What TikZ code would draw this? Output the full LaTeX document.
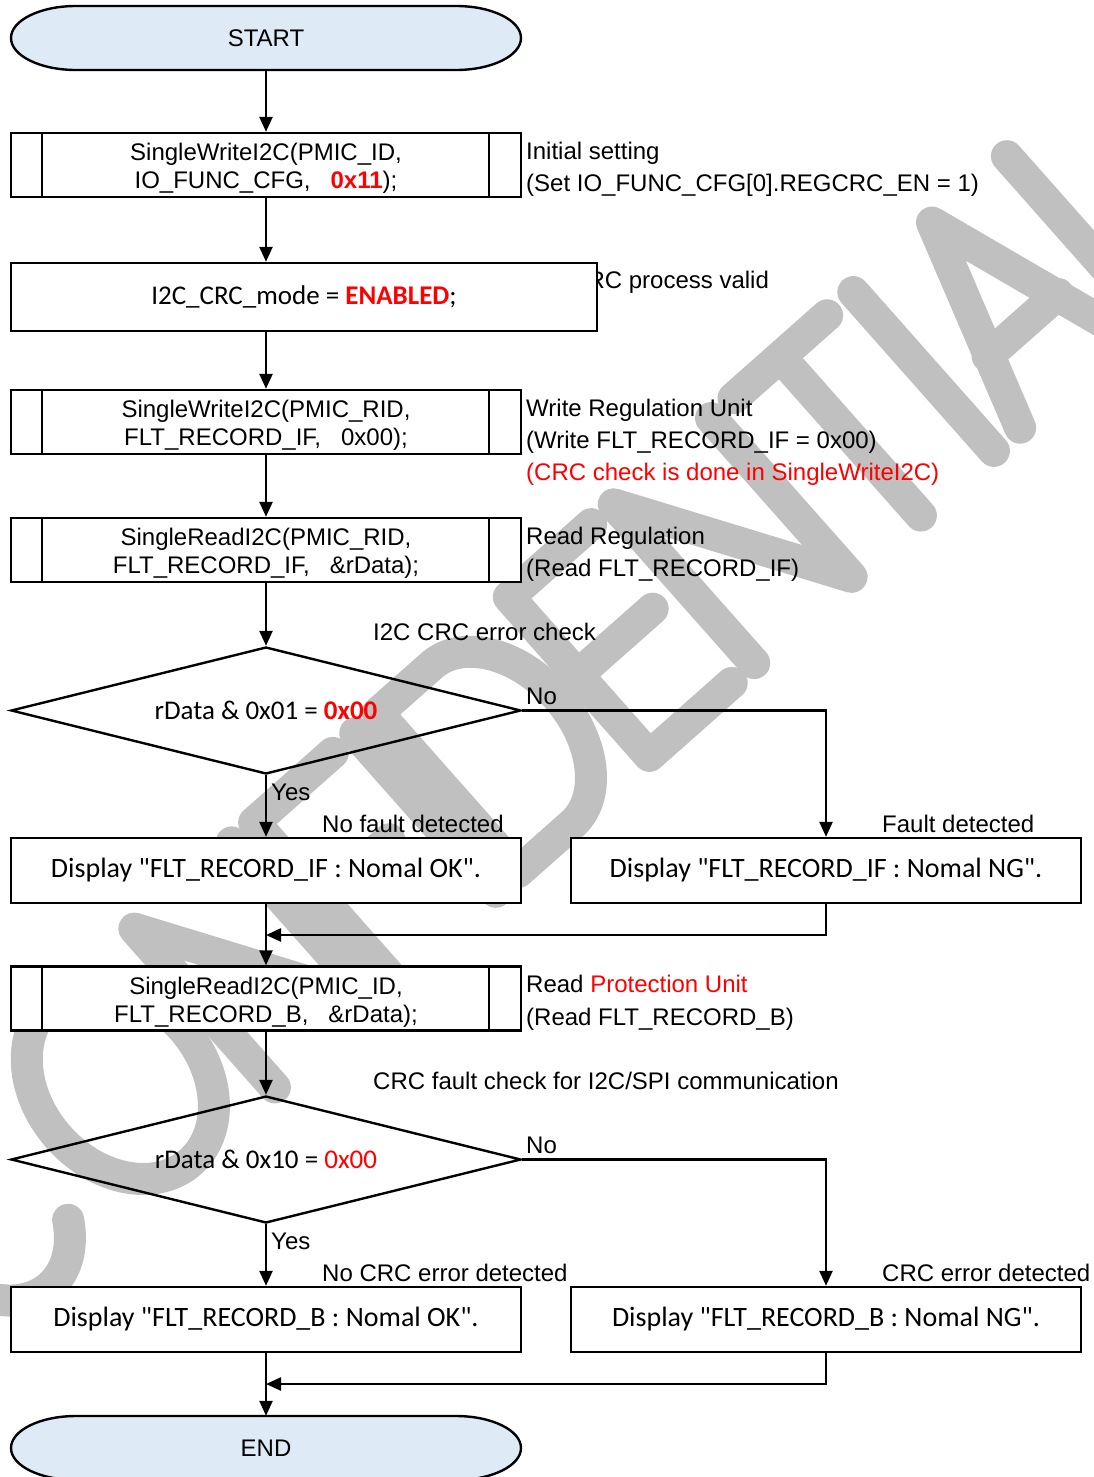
\documentclass[tikz,border=0pt]{standalone}
\usepackage{fontspec}
\setmainfont{Liberation Sans}
\newfontfamily\calfont{Carlito}
\usetikzlibrary{arrows.meta,shapes.geometric}

\definecolor{termfill}{RGB}{222,235,247}
\definecolor{wmgray}{RGB}{192,192,192}
\definecolor{hot}{RGB}{255,0,0}

% rounded terminal outline centred at (266,#1)
\newcommand\terminalpath[1]{%
  \path[draw, fill=termfill, line width=2.4pt]
    (76,#1-32) -- (456,#1-32)
    arc[start angle=-90, end angle=90, x radius=65, y radius=32]
    -- (76,#1+32)
    arc[start angle=90, end angle=270, x radius=65, y radius=32] -- cycle;}
% extra room above the first line of two-line boxes
\newcommand\lift{\rule{0pt}{24pt}}

\tikzset{
  flow/.style={line width=2.4pt},
  arr/.style={flow, -{Triangle[length=15pt,width=13pt]}},
  termtext/.style={inner sep=0pt, minimum width=510pt, minimum height=64pt,
    font=\fontsize{24}{28}\selectfont},
  box/.style={draw, fill=white, line width=2.4pt, inner sep=0pt,
    minimum width=510pt, minimum height=64pt, align=center,
    font=\fontsize{24}{28}\selectfont},
  subproc/.style={box, path picture={
    \draw[line width=2.4pt]
      ([xshift=31pt]path picture bounding box.north west) --
      ([xshift=31pt]path picture bounding box.south west)
      ([xshift=-32pt]path picture bounding box.north east) --
      ([xshift=-32pt]path picture bounding box.south east);}},
  dispbox/.style={draw, fill=white, line width=2.4pt, inner sep=0pt,
    minimum width=510pt, minimum height=65pt,
    font=\calfont\fontsize{28}{32}\selectfont},
  decision/.style={diamond, draw, line width=2.4pt, inner sep=0pt, aspect=4,
    minimum width=510pt, minimum height=127pt,
    font=\calfont\fontsize{27}{32}\selectfont},
  note/.style={anchor=base west, inner sep=0pt, font=\fontsize{24}{32}\selectfont},
  wmstroke/.style={draw=wmgray, line width=32pt, line cap=round, line join=round},
}

\begin{document}
\begin{tikzpicture}[x=1pt, y=-1pt]
\useasboundingbox (0,0) rectangle (1094,1477);

% watermark: stroke letters along a slanted baseline (letter frame: x along, y up)
\begin{scope}[shift={(-6,1336)}, x={(0.749pt,0.663pt)}, y={(-0.663pt,0.749pt)}, wmstroke]
  % C
  \draw (132.5,174.1) arc[start angle=40, end angle=320, x radius=75, y radius=106];
  % O
  \draw (262.5,106) ellipse [x radius=82.5, y radius=106];
  % N
  \draw (375,0) -- (375,212) -- (505,0) -- (505,212);
  % F
  \draw (640,212) -- (535,212) -- (535,0) (535,110) -- (625,110);
  % I
  \draw (670,0) -- (670,212);
  % D
  \draw (700,0) -- (700,212) -- (772,212)
        arc[start angle=90, end angle=-90, x radius=73, y radius=106] -- cycle;
  % E
  \draw (985,212) -- (875,212) -- (875,0) -- (985,0) (875,108) -- (975,108);
  % N
  \draw (1015,0) -- (1015,212) -- (1145,0) -- (1145,212);
  % T
  \draw (1175,212) -- (1300,212) (1237.5,212) -- (1237.5,0);
  % I
  \draw (1335,0) -- (1335,212);
  % A
  \draw (1370,0) -- (1440,212) -- (1510,0) (1393,75) -- (1487,75);
  % L
  \draw (1540,212) -- (1540,0) -- (1645,0);
\end{scope}

% note partly covered by the mode box
\node[note] (n2) at (526,288.5) {I2C CRC process valid};

% terminals
\terminalpath{38}
\node[termtext] (start) at (266,38) {START};
\terminalpath{1448}
\node[termtext] (end) at (266,1448) {END};

% process boxes
\node[subproc] (b1) at (266,165)
  {\lift SingleWriteI2C(PMIC\_ID,\\IO\_FUNC\_CFG,\ \ \ {\color{hot}\bfseries 0x11});};
\node[box, minimum width=586pt, minimum height=68pt,
      font=\calfont\fontsize{27}{32}\selectfont] (b2) at (304,297)
  {I2C\_CRC\_mode = {\color{hot}\bfseries ENABLED};};
\node[subproc] (b3) at (266,422)
  {\lift SingleWriteI2C(PMIC\_RID,\\FLT\_RECORD\_IF,\ \ \ 0x00);};
\node[subproc] (b4) at (266,550)
  {\lift SingleReadI2C(PMIC\_RID,\\FLT\_RECORD\_IF,\ \ \ \&rData);};
\node[decision] (d1) at (266,710.5) {rData \& 0x01 = {\color{hot}\bfseries 0x00}};
\node[dispbox] (ok1) at (266,870.5) {Display "FLT\_RECORD\_IF : Nomal OK".};
\node[dispbox] (ng1) at (826,870.5) {Display "FLT\_RECORD\_IF : Nomal NG".};
\node[subproc] (b5) at (266,998.5)
  {\lift SingleReadI2C(PMIC\_ID,\\FLT\_RECORD\_B,\ \ \ \&rData);};
\node[decision] (d2) at (266,1159.5) {rData \& 0x10 = {\color{hot}0x00}};
\node[dispbox] (ok2) at (266,1319.5) {Display "FLT\_RECORD\_B : Nomal OK".};
\node[dispbox] (ng2) at (826,1319.5) {Display "FLT\_RECORD\_B : Nomal NG".};

% notes
\node[note] (n1a) at (526,159.5) {Initial setting};
\node[note] (n1b) at (526,191.5) {(Set IO\_FUNC\_CFG[0].REGCRC\_EN = 1)};
\node[note] (n3a) at (526,416.5) {Write Regulation Unit};
\node[note] (n3b) at (526,448.5) {(Write FLT\_RECORD\_IF = 0x00)};
\node[note, text=hot] (n3c) at (526,480.5) {(CRC check is done in SingleWriteI2C)};
\node[note] (n4a) at (526,544.5) {Read Regulation};
\node[note] (n4b) at (526,576.5) {(Read FLT\_RECORD\_IF)};
\node[note] (c1) at (373,640.5) {I2C CRC error check};
\node[note] (no1) at (526,704.5) {No};
\node[note] (yes1) at (271,800.5) {Yes};
\node[note] (l1) at (322,832.5) {No fault detected};
\node[note] (l2) at (882,832.5) {Fault detected};
\node[note] (n5a) at (526,992.5) {Read {\color{hot}Protection Unit}};
\node[note] (n5b) at (526,1025.5) {(Read FLT\_RECORD\_B)};
\node[note] (c2) at (373,1089.5) {CRC fault check for I2C/SPI communication};
\node[note] (no2) at (526,1153.5) {No};
\node[note] (yes2) at (271,1249.5) {Yes};
\node[note] (l3) at (322,1281.5) {No CRC error detected};
\node[note] (l4) at (882,1281.5) {CRC error detected};

% connectors
\coordinate (j1) at (266,935);
\coordinate (j2) at (266,1384);
\draw[arr] (start.south) -- (b1.north);
\draw[arr] (b1.south) -- (b1.south |- b2.north);
\draw[arr] (b3.north |- b2.south) -- (b3.north);
\draw[arr] (b3.south) -- (b4.north);
\draw[arr] (b4.south) -- (d1.north);
\draw[arr] (d1.east) -| (ng1.north);
\draw[arr] (d1.south) -- (ok1.north);
\draw[arr] (ok1.south) -- (b5.north);
\draw[arr] (ng1.south) |- (j1);
\draw[arr] (b5.south) -- (d2.north);
\draw[arr] (d2.east) -| (ng2.north);
\draw[arr] (d2.south) -- (ok2.north);
\draw[arr] (ok2.south) -- (end.north);
\draw[arr] (ng2.south) |- (j2);
\end{tikzpicture}
\end{document}
